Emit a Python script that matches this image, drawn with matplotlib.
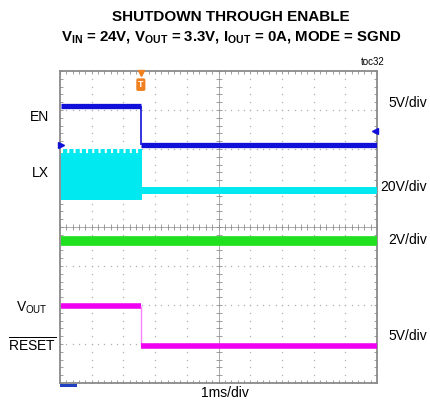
import numpy as np
import matplotlib.pyplot as plt

plt.rcParams['font.family'] = ['Liberation Sans', 'DejaVu Sans']
plt.rcParams['mathtext.default'] = 'regular'
plt.rcParams['lines.solid_capstyle'] = 'butt'

# scope traces, in divisions (x: 0..10, y: 0..8 from bottom)
start_time = 0.02
edge_time = 2.55          # EN falling edge
en_high, en_low = 7.10, 6.10
lx_top, lx_bottom = 5.99, 4.68
lx_after = 4.95
pgood_level = 3.65
vout_high, vout_low = 1.97, 0.95

right_labels = ['5V/div', '20V/div', '2V/div', '5V/div']
right_label_y = [103, 187, 240, 336]   # pixels from top

W, H = 430, 404
fig = plt.figure(figsize=(W / 100, H / 100), dpi=100)
ax = fig.add_axes([60 / W, 21 / H, 317 / W, 312 / H])
ax.set_xlim(0, 10)
ax.set_ylim(0, 8)
ax.set_xticks([])
ax.set_yticks([])
for s in ax.spines.values():
    s.set_color('#8a8a8a')
    s.set_linewidth(1.3)

# dotted graticule
fine = np.arange(0, 10.01, 0.2)
yfine = np.arange(0, 8.01, 0.2)
for gx in range(1, 10):
    ax.plot([gx] * len(yfine), yfine, ls='none', marker='s', ms=0.9, color='#b0b0b0', mec='none')
for gy in range(1, 8):
    ax.plot(fine, [gy] * len(fine), ls='none', marker='s', ms=0.9, color='#b0b0b0', mec='none')
# centre crosshair with fine ticks
ax.axvline(5, color='#a0a0a0', lw=0.6)
ax.axhline(4, color='#a0a0a0', lw=0.6)
ax.plot(fine, [4] * len(fine), ls='none', marker='|', ms=4, mew=0.6, color='#909090')
ax.plot([5] * len(yfine), yfine, ls='none', marker='_', ms=4, mew=0.6, color='#909090')
# edge ticks
ax.plot(fine, [0] * len(fine), ls='none', marker='|', ms=5, mew=0.6, color='#909090')
ax.plot(fine, [8] * len(fine), ls='none', marker='|', ms=5, mew=0.6, color='#909090')
ax.plot([0] * len(yfine), yfine, ls='none', marker='_', ms=5, mew=0.6, color='#909090')
ax.plot([10] * len(yfine), yfine, ls='none', marker='_', ms=5, mew=0.6, color='#909090')

# LX (cyan)
cyan = '#00e8f0'
ax.fill_between([start_time, edge_time + 0.04], [lx_bottom] * 2, [lx_top] * 2, color=cyan, lw=0, zorder=3)
ax.plot([start_time, edge_time], [lx_top - 0.05] * 2, color='white', lw=3, ls=(0, (0.5, 1.0)), zorder=3.5)
ax.plot([edge_time, 10], [lx_after, lx_after], color=cyan, lw=5, zorder=3)

# EN (blue)
blue = '#1010d8'
ax.plot([start_time, edge_time], [en_high, en_high], color=blue, lw=3.8, zorder=4)
ax.plot([edge_time, edge_time], [en_high, en_low], color=blue, lw=1.2, zorder=4)
ax.plot([edge_time, 10], [en_low, en_low], color=blue, lw=3.8, zorder=4)

# PGOOD / green
green = '#20e020'
ax.plot([start_time, 10], [pgood_level, pgood_level], color=green, lw=7, zorder=4)

# VOUT / RESET (magenta)
magenta = '#f000f0'
ax.plot([start_time, edge_time], [vout_high, vout_high], color=magenta, lw=4, zorder=4)
ax.plot([edge_time, edge_time], [vout_high, vout_low], color='#ff80ff', lw=1.0, zorder=4)
ax.plot([edge_time, 10], [vout_low, vout_low], color=magenta, lw=4, zorder=4)

# channel reference markers
ax.plot([0.02], [en_low], marker='>', ms=4, color=blue, clip_on=False, zorder=5)
ax.plot([9.93], [6.45], marker='<', ms=4, color=blue, clip_on=False, zorder=5)

# trigger marker
ax.plot([edge_time], [7.96], marker='v', ms=4, color='#f08020', clip_on=False, zorder=6)
ax.text(edge_time, 7.65, 'T', color='white', fontsize=6.5, fontweight='bold', ha='center', va='center',
        bbox=dict(boxstyle='round,pad=0.2', fc='#f08020', ec='none'), zorder=6)

# bottom status strip
ax.add_patch(plt.Rectangle((0, -0.09), 0.55, 0.07, color='#2040c0', clip_on=False, lw=0))

# titles
fig.text(231 / W, 1 - 17 / H, 'SHUTDOWN THROUGH ENABLE', ha='center', va='center',
         fontsize=11, fontweight='bold')
fig.text(231 / W, 1 - 37 / H, r'V$_{IN}$ = 24V, V$_{OUT}$ = 3.3V, I$_{OUT}$ = 0A, MODE = SGND',
         ha='center', va='center', fontsize=10.8, fontweight='bold')
fig.text(385 / W, 1 - 62 / H, 'toc32', ha='right', va='center', fontsize=7)

# left labels
fig.text(49 / W, 1 - 117 / H, 'EN', ha='right', va='center', fontsize=10)
fig.text(49 / W, 1 - 173 / H, 'LX', ha='right', va='center', fontsize=10)
fig.text(48 / W, 1 - 308 / H, r'V$_{OUT}$', ha='right', va='center', fontsize=10)
fig.text(56 / W, 1 - 345 / H, r'$\overline{RESET}$', ha='right', va='center', fontsize=10)

# right labels
for lab, py in zip(right_labels, right_label_y):
    fig.text(427 / W, 1 - py / H, lab, ha='right', va='center', fontsize=10)

fig.text(225 / W, 1 - 393 / H, '1ms/div', ha='center', va='center', fontsize=10)

fig.savefig('out.png', dpi=100)
